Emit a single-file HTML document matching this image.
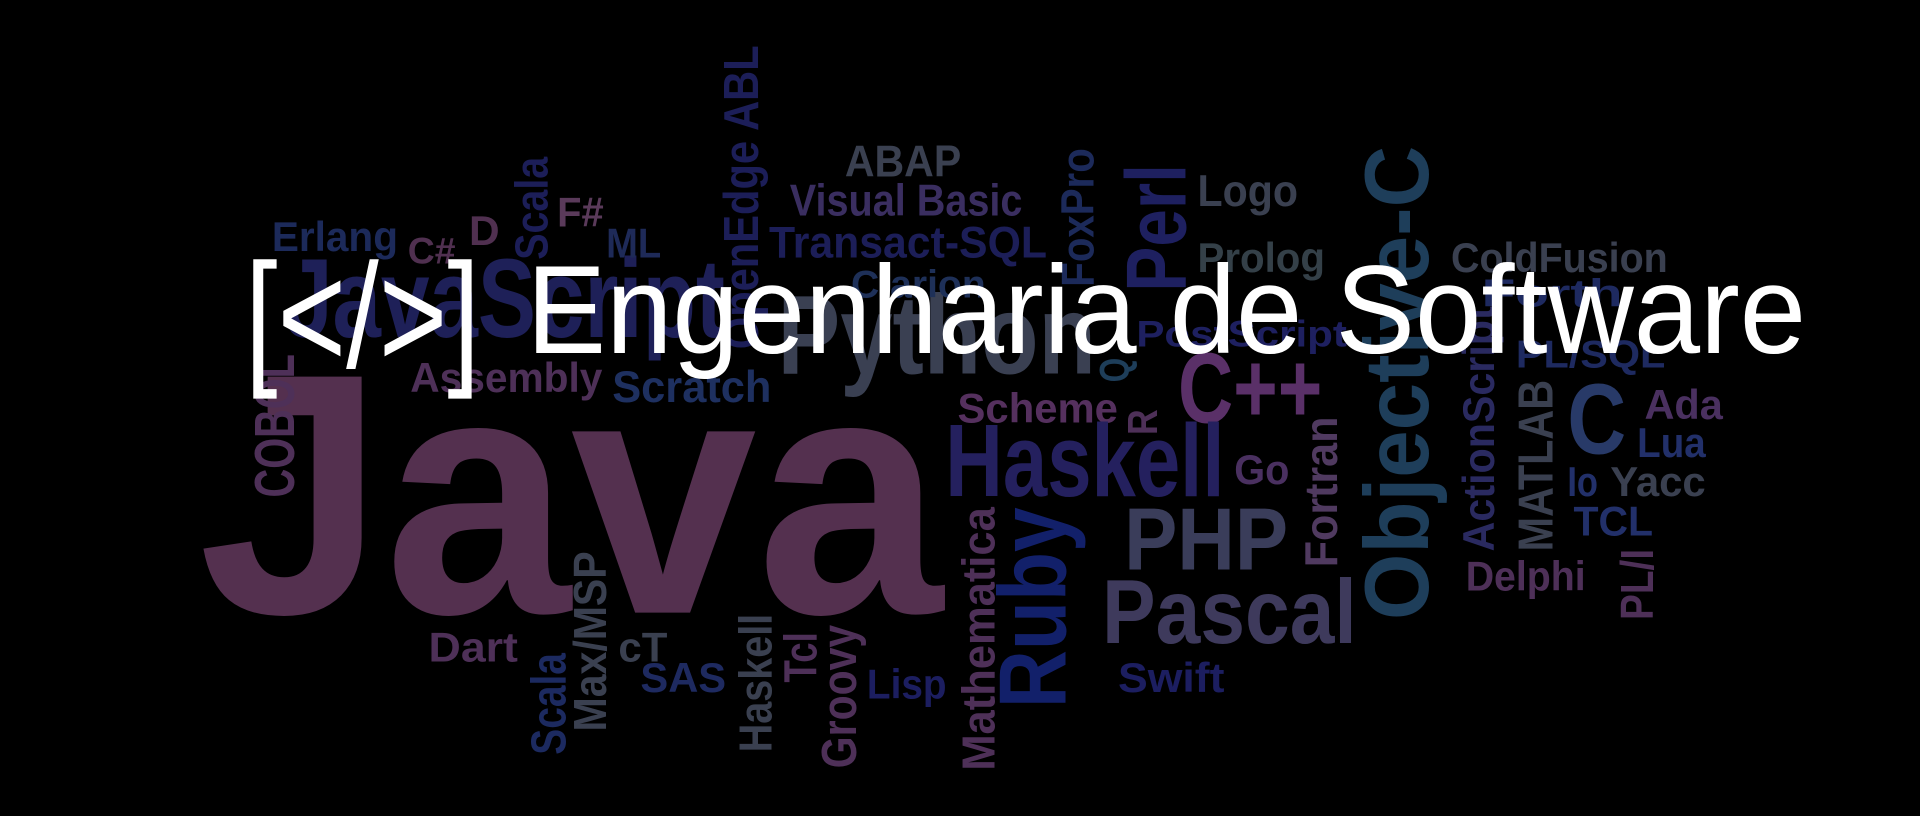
<!DOCTYPE html>
<html><head><meta charset="utf-8"><style>
html,body{margin:0;padding:0;background:#000;}
svg{display:block;}
text{font-family:"Liberation Sans",Arial,sans-serif;}
#words text{font-weight:bold;}
</style></head><body>
<svg width="1920" height="816" viewBox="0 0 1568 666" preserveAspectRatio="none" id="cloud">
<rect width="1568" height="666" fill="#000"/>
<g id="words"></g>
<g>
<text x="200" y="300" font-size="122" fill="#fff" textLength="192" lengthAdjust="spacingAndGlyphs">[&lt;/&gt;]</text>
<text x="430" y="288" font-size="102" fill="#fff" textLength="1045" lengthAdjust="spacingAndGlyphs">Engenharia de Software</text>
</g>
</svg>
<script>
// horizontal words: text, x, baseline, width, fontSize, color
var hWords = [
 ["Java",162,500,608,280,"#54304f"],
 ["JavaScript",232,275,360,92,"#1e2058"],
 ["Python",635,305,260,92,"#3a4052"],
 ["ABAP",690,144,95,36,"#3a4050"],
 ["Visual Basic",645,176,190,36,"#3a2e60"],
 ["F#",455,185,38,34,"#5a3a5a"],
 ["Erlang",222,205,103,34,"#1c2a5a"],
 ["C#",333,215,39,30,"#503050"],
 ["D",383,200,25,34,"#503050"],
 ["ML",495,210,45,34,"#1e2a58"],
 ["Transact-SQL",628,210,227,36,"#1c1e58"],
 ["Logo",978,168,82,36,"#3a4050"],
 ["Prolog",978,222,104,34,"#344048"],
 ["ColdFusion",1185,222,177,34,"#3a4050"],
 ["Clarion",695,243,110,32,"#1e3058"],
 ["PostScript",928,283,172,30,"#1e2060"],
 ["Forth",1210,250,115,32,"#1e2a60"],
 ["PL/SQL",1238,300,122,32,"#1e2a60"],
 ["Assembly",335,320,157,34,"#4e3058"],
 ["Scratch",500,328,130,36,"#1e3060"],
 ["C++",962,345,118,82,"#5a3068"],
 ["Scheme",782,345,131,34,"#55305e"],
 ["C",1280,370,48,82,"#283a68"],
 ["Ada",1343,342,64,34,"#4a3060"],
 ["Lua",1337,373,56,34,"#22306a"],
 ["Haskell",772,405,228,84,"#24205e"],
 ["Go",1008,395,45,34,"#4a3060"],
 ["Io",1280,405,25,34,"#22306a"],
 ["Yacc",1315,405,78,34,"#3a4050"],
 ["TCL",1285,437,65,34,"#22306a"],
 ["PHP",918,465,134,72,"#3a3d5a"],
 ["Delphi",1197,482,98,34,"#4e3058"],
 ["Pascal",900,525,208,74,"#3e3a5c"],
 ["Dart",350,540,73,34,"#4e3058"],
 ["cT",505,540,40,34,"#3a4050"],
 ["SAS",523,565,70,34,"#1e2a60"],
 ["Lisp",708,570,65,34,"#1c1e60"],
 ["Swift",913,565,87,34,"#1c1e60"]
];
// vertical words (bottom-to-top): text, baselineX, bottomY, length, fontSize, color
var vWords = [
 ["COBOL",240,406,117,46,"#4e3058"],
 ["OpenEdge ABL",619,285,248,40,"#1c1e58"],
 ["Scala",447,212,84,38,"#1c1e58"],
 ["FoxPro",893,234,113,38,"#1c2a5a"],
 ["Perl",968,238,104,70,"#1e2060"],
 ["Objective-C",1166,506,387,74,"#1e3e5a"],
 ["Q",922,312,20,34,"#1e3e5a"],
 ["R",945,355,21,34,"#4e3058"],
 ["Ruby",870,578,164,78,"#12206a"],
 ["Mathematica",812,629,215,38,"#4e3058"],
 ["Fortran",1092,463,123,38,"#503a60"],
 ["ActionScript",1220,450,200,36,"#2a2a60"],
 ["MATLAB",1268,450,140,40,"#3a4050"],
 ["PL/I",1350,506,58,38,"#4e3058"],
 ["Scala",462,616,83,40,"#1c2a60"],
 ["Max/MSP",495,597,147,38,"#3a4050"],
 ["Haskell",630,614,113,38,"#3a4050"],
 ["Tcl",667,557,41,38,"#4e3058"],
 ["Groovy",699,627,117,40,"#4e3058"]
];
var NS="http://www.w3.org/2000/svg";
var layer=document.getElementById("words");
function slug(s){return s.toLowerCase().replace(/[^a-z0-9]+/g,"-").replace(/^-|-$/g,"");}
hWords.forEach(function(w){
 var t=document.createElementNS(NS,"text");
 t.setAttribute("x",w[1]);t.setAttribute("y",w[2]);
 t.setAttribute("textLength",w[3]);t.setAttribute("lengthAdjust","spacingAndGlyphs");
 t.setAttribute("font-size",w[4]);t.setAttribute("fill",w[5]);
 t.textContent=w[0];
 
 
 layer.appendChild(t);
});
vWords.forEach(function(w){
 var t=document.createElementNS(NS,"text");
 t.setAttribute("transform","translate("+w[1]+","+w[2]+") rotate(-90)");
 t.setAttribute("x",0);t.setAttribute("y",0);
 t.setAttribute("textLength",w[3]);t.setAttribute("lengthAdjust","spacingAndGlyphs");
 t.setAttribute("font-size",w[4]);t.setAttribute("fill",w[5]);
 t.textContent=w[0];
 
 
 layer.appendChild(t);
});
</script>
</body></html>
